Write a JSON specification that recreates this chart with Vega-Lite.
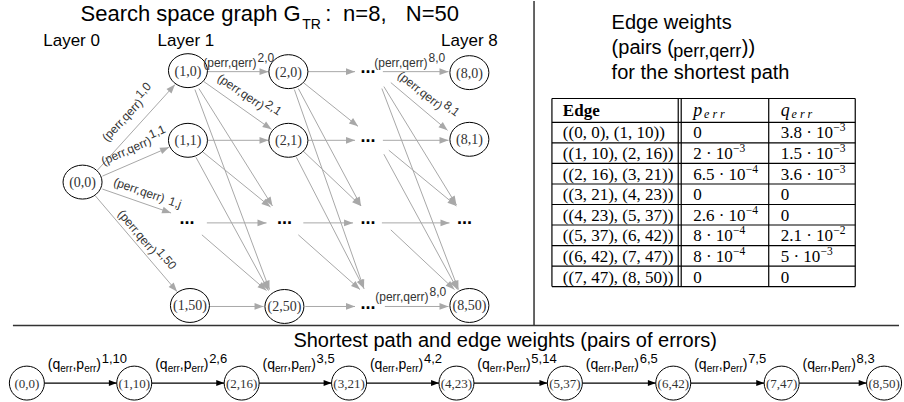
{
 "$schema": "https://vega.github.io/schema/vega-lite/v6.json",
 "width": 904, "height": 402,
 "autosize": {"type": "fit", "contains": "padding"},
 "padding": 0,
 "background": "white",
 "config": {"view": {"stroke": null}},
 "datasets": {
  "edges": [
   {"g":"t","x":98,"y":170,"x2":176,"y2":84},{"g":"t","x":103,"y":176,"x2":170,"y2":147},{"g":"t","x":103,"y":189,"x2":172,"y2":213},{"g":"t","x":96,"y":196,"x2":178,"y2":292},
   {"g":"t","x":208,"y":71,"x2":270,"y2":71},{"g":"t","x":309,"y":71,"x2":357,"y2":71},{"g":"t","x":385,"y":71,"x2":451,"y2":71},
   {"g":"t","x":208,"y":140,"x2":270,"y2":140},{"g":"t","x":309,"y":140,"x2":357,"y2":140},{"g":"t","x":385,"y":140,"x2":451,"y2":140},
   {"g":"t","x":208,"y":223,"x2":268,"y2":223},{"g":"t","x":305,"y":223,"x2":355,"y2":223},{"g":"t","x":384,"y":223,"x2":452,"y2":223},
   {"g":"t","x":211,"y":307,"x2":265,"y2":307},{"g":"t","x":307,"y":307,"x2":357,"y2":307},{"g":"t","x":387,"y":307,"x2":451,"y2":307},
   {"g":"t","x":205,"y":81,"x2":273,"y2":129},{"g":"t","x":200,"y":88,"x2":274,"y2":206},{"g":"t","x":196,"y":89,"x2":271,"y2":290},{"g":"t","x":203,"y":151,"x2":272,"y2":207},{"g":"t","x":197,"y":157,"x2":270,"y2":291},{"g":"t","x":203,"y":235,"x2":268,"y2":291},
   {"g":"t","x":305,"y":82,"x2":360,"y2":126},{"g":"t","x":300,"y":88,"x2":363,"y2":206},{"g":"t","x":296,"y":89,"x2":366,"y2":289},{"g":"t","x":305,"y":151,"x2":363,"y2":206},{"g":"t","x":298,"y":157,"x2":366,"y2":289},{"g":"t","x":300,"y":235,"x2":362,"y2":290},
   {"g":"t","x":393,"y":82,"x2":450,"y2":130},{"g":"t","x":386,"y":86,"x2":459,"y2":205},{"g":"t","x":384,"y":88,"x2":461,"y2":290},{"g":"t","x":391,"y":150,"x2":459,"y2":206},{"g":"t","x":386,"y":154,"x2":460,"y2":290},{"g":"t","x":393,"y":230,"x2":457,"y2":290},
   {"g":"b","x":44.5,"y":384,"x2":117.5,"y2":384},{"g":"b","x":152.5,"y":384,"x2":225.5,"y2":384},{"g":"b","x":260.5,"y":384,"x2":333.5,"y2":384},{"g":"b","x":368.5,"y":384,"x2":441.5,"y2":384},
   {"g":"b","x":476.5,"y":384,"x2":550.5,"y2":384},{"g":"b","x":585.5,"y":384,"x2":659.5,"y2":384},{"g":"b","x":694.5,"y":384,"x2":768.5,"y2":384},{"g":"b","x":803.5,"y":384,"x2":871.5,"y2":384}
  ],
  "nodes": [
   {"g":"t","x":83,"y":182,"label":"(0,0)"},
   {"g":"t","x":189,"y":70,"label":"(1,0)"},{"g":"t","x":189,"y":140,"label":"(1,1)"},{"g":"t","x":191,"y":306,"label":"(1,50)"},
   {"g":"t","x":290,"y":71,"label":"(2,0)"},{"g":"t","x":290,"y":140,"label":"(2,1)"},{"g":"t","x":286,"y":307,"label":"(2,50)"},
   {"g":"t","x":472,"y":72,"label":"(8,0)"},{"g":"t","x":472,"y":139,"label":"(8,1)"},{"g":"t","x":472,"y":306,"label":"(8,50)"},
   {"g":"b","x":27,"y":384,"label":"(0,0)"},{"g":"b","x":135,"y":384,"label":"(1,10)"},{"g":"b","x":243,"y":384,"label":"(2,16)"},{"g":"b","x":351,"y":384,"label":"(3,21)"},
   {"g":"b","x":459,"y":384,"label":"(4,23)"},{"g":"b","x":568,"y":384,"label":"(5,37)"},{"g":"b","x":677,"y":384,"label":"(6,42)"},{"g":"b","x":786,"y":384,"label":"(7,47)"},{"g":"b","x":889,"y":384,"label":"(8,50)"}
  ],
  "dots": [
   {"x":188,"y":223},{"x":286,"y":223},{"x":370,"y":71},{"x":370,"y":140},{"x":370,"y":223},{"x":370,"y":308},{"x":467,"y":223}
  ],
  "lbl": [
   {"k":"n","x":145,"y":102,"ang":-47,"sup":"1,0"},
   {"k":"n","x":154,"y":143,"ang":-24,"sup":"1,1"},
   {"k":"j","x":165,"y":203,"ang":19,"sup":"1,j"},
   {"k":"n","x":153,"y":256,"ang":50,"sup":"1,50"},
   {"k":"n","x":259,"y":66,"ang":0,"sup":"2,0"},
   {"k":"n","x":263,"y":110,"ang":34,"sup":"2,1"},
   {"k":"n","x":431,"y":66,"ang":0,"sup":"8,0"},
   {"k":"n","x":442,"y":110,"ang":38,"sup":"8,1"},
   {"k":"n","x":432,"y":301,"ang":0,"sup":"8,0"}
  ],
  "blbl": [
   {"x":48,"y":370,"sup":"1,10"},{"x":156,"y":370,"sup":"2,6"},{"x":264,"y":370,"sup":"3,5"},{"x":372,"y":370,"sup":"4,2"},
   {"x":480,"y":370,"sup":"5,14"},{"x":589,"y":370,"sup":"6,5"},{"x":698,"y":370,"sup":"7,5"},{"x":807,"y":370,"sup":"8,3"}
  ],
  "lines": [
   {"k":"sep","x":537,"y":0,"x2":537,"y2":326},{"k":"sep","x":13,"y":326,"x2":904,"y2":326},
   {"k":"tab","x":555,"y":98,"x2":860,"y2":98},{"k":"tab","x":555,"y":122,"x2":860,"y2":122},{"k":"tab","x":555,"y":142.6,"x2":860,"y2":142.6},
   {"k":"tab","x":555,"y":163.2,"x2":860,"y2":163.2},{"k":"tab","x":555,"y":183.9,"x2":860,"y2":183.9},{"k":"tab","x":555,"y":204.5,"x2":860,"y2":204.5},
   {"k":"tab","x":555,"y":225.1,"x2":860,"y2":225.1},{"k":"tab","x":555,"y":245.8,"x2":860,"y2":245.8},{"k":"tab","x":555,"y":266.4,"x2":860,"y2":266.4},
   {"k":"tab","x":555,"y":287,"x2":860,"y2":287},
   {"k":"tab","x":555,"y":98,"x2":555,"y2":287},{"k":"tab","x":682,"y":98,"x2":682,"y2":287},{"k":"tab","x":685,"y":98,"x2":685,"y2":287},
   {"k":"tab","x":773,"y":98,"x2":773,"y2":287},{"k":"tab","x":860,"y":98,"x2":860,"y2":287}
  ],
  "txt": [
   {"k":"title","x":81,"y":20,"t":"Search space graph G"},
   {"k":"tsub","x":304,"y":28,"t":"TR"},
   {"k":"title","x":327,"y":20,"t":":"},
   {"k":"title","x":345,"y":20,"t":"n=8,"},
   {"k":"title","x":408,"y":20,"t":"N=50"},
   {"k":"layer","x":72,"y":45,"t":"Layer 0"},{"k":"layer","x":187,"y":45,"t":"Layer 1"},{"k":"layer","x":472,"y":45,"t":"Layer 8"},
   {"k":"rp","x":615,"y":28,"t":"Edge weights"},
   {"k":"rp","x":615,"y":53,"t":"(pairs ("},
   {"k":"rpsub","x":677,"y":56,"t":"perr,qerr"},
   {"k":"rp","x":746,"y":53,"t":"))"},
   {"k":"rp","x":615,"y":78,"t":"for the shortest path"},
   {"k":"bt","x":508,"y":348,"t":"Shortest path and edge weights (pairs of errors)"}
  ],
  "tab": [
   {"k":"th","x":566,"y":110,"t":"Edge"},
   {"k":"thi","x":697,"y":110,"t":"p"},{"k":"this","x":708,"y":113,"t":"e r r"},
   {"k":"thi","x":785,"y":110,"t":"q"},{"k":"this","x":796,"y":113,"t":"e r r"},
   {"k":"tc","x":566,"y":132,"t":"((0, 0), (1, 10))"},{"k":"tc","x":697,"y":132,"t":"0"},{"k":"tc","x":785,"y":132,"t":"3.8 · 10"},{"k":"ts","x":838,"y":127,"t":"−3"},
   {"k":"tc","x":566,"y":153,"t":"((1, 10), (2, 16))"},{"k":"tc","x":697,"y":153,"t":"2 · 10"},{"k":"ts","x":737,"y":148,"t":"−3"},{"k":"tc","x":785,"y":153,"t":"1.5 · 10"},{"k":"ts","x":838,"y":148,"t":"−3"},
   {"k":"tc","x":566,"y":174,"t":"((2, 16), (3, 21))"},{"k":"tc","x":697,"y":174,"t":"6.5 · 10"},{"k":"ts","x":750,"y":169,"t":"−4"},{"k":"tc","x":785,"y":174,"t":"3.6 · 10"},{"k":"ts","x":838,"y":169,"t":"−3"},
   {"k":"tc","x":566,"y":194,"t":"((3, 21), (4, 23))"},{"k":"tc","x":697,"y":194,"t":"0"},{"k":"tc","x":785,"y":194,"t":"0"},
   {"k":"tc","x":566,"y":215,"t":"((4, 23), (5, 37))"},{"k":"tc","x":697,"y":215,"t":"2.6 · 10"},{"k":"ts","x":750,"y":210,"t":"−4"},{"k":"tc","x":785,"y":215,"t":"0"},
   {"k":"tc","x":566,"y":235,"t":"((5, 37), (6, 42))"},{"k":"tc","x":697,"y":235,"t":"8 · 10"},{"k":"ts","x":737,"y":230,"t":"−4"},{"k":"tc","x":785,"y":235,"t":"2.1 · 10"},{"k":"ts","x":838,"y":230,"t":"−2"},
   {"k":"tc","x":566,"y":256,"t":"((6, 42), (7, 47))"},{"k":"tc","x":697,"y":256,"t":"8 · 10"},{"k":"ts","x":737,"y":251,"t":"−4"},{"k":"tc","x":785,"y":256,"t":"5 · 10"},{"k":"ts","x":825,"y":251,"t":"−3"},
   {"k":"tc","x":566,"y":277,"t":"((7, 47), (8, 50))"},{"k":"tc","x":697,"y":277,"t":"0"},{"k":"tc","x":785,"y":277,"t":"0"}
  ]
 },
 "layer": [
  {"data":{"name":"edges"},"transform":[{"filter":"datum.g === 't'"}],
   "mark":{"type":"rule","color":"#a8a8a8","strokeWidth":1},
   "encoding":{"x":{"field":"x","type":"quantitative","scale":{"domain":[0,904],"nice":false,"zero":false},"axis":null},
    "y":{"field":"y","type":"quantitative","scale":{"domain":[0,402],"nice":false,"zero":false,"reverse":true},"axis":null},
    "x2":{"field":"x2"},"y2":{"field":"y2"}}},
  {"data":{"name":"edges"},"transform":[{"filter":"datum.g === 't'"},{"calculate":"atan2(datum.y2-datum.y, datum.x2-datum.x)*180/PI","as":"ang"}],
   "mark":{"type":"point","shape":"M0,0L-2,-0.75L-2,0.75Z","filled":true,"color":"#a8a8a8","size":81,"opacity":1,"strokeWidth":0},
   "encoding":{"x":{"field":"x2","type":"quantitative","scale":{"domain":[0,904],"nice":false,"zero":false},"axis":null},
    "y":{"field":"y2","type":"quantitative","scale":{"domain":[0,402],"nice":false,"zero":false,"reverse":true},"axis":null},
    "angle":{"field":"ang","type":"quantitative","scale":null}}},
  {"data":{"name":"edges"},"transform":[{"filter":"datum.g === 'b'"}],
   "mark":{"type":"rule","color":"#000","strokeWidth":1.2},
   "encoding":{"x":{"field":"x","type":"quantitative","scale":{"domain":[0,904],"nice":false,"zero":false},"axis":null},
    "y":{"field":"y","type":"quantitative","scale":{"domain":[0,402],"nice":false,"zero":false,"reverse":true},"axis":null},
    "x2":{"field":"x2"},"y2":{"field":"y2"}}},
  {"data":{"name":"edges"},"transform":[{"filter":"datum.g === 'b'"},{"calculate":"atan2(datum.y2-datum.y, datum.x2-datum.x)*180/PI","as":"ang"}],
   "mark":{"type":"point","shape":"M0,0L-2,-0.75L-2,0.75Z","filled":true,"color":"#000","size":64,"opacity":1,"strokeWidth":0},
   "encoding":{"x":{"field":"x2","type":"quantitative","scale":{"domain":[0,904],"nice":false,"zero":false},"axis":null},
    "y":{"field":"y2","type":"quantitative","scale":{"domain":[0,402],"nice":false,"zero":false,"reverse":true},"axis":null},
    "angle":{"field":"ang","type":"quantitative","scale":null}}},
  {"data":{"name":"nodes"},"transform":[{"filter":"datum.g === 't'"}],
   "mark":{"type":"point","shape":"M-1,0C-1,-0.48,-0.55,-0.87,0,-0.87C0.55,-0.87,1,-0.48,1,0C1,0.48,0.55,0.87,0,0.87C-0.55,0.87,-1,0.48,-1,0Z","filled":true,"fill":"white","stroke":"#000","strokeWidth":1,"size":1521,"opacity":1},
   "encoding":{"x":{"field":"x","type":"quantitative","scale":{"domain":[0,904],"nice":false,"zero":false},"axis":null},
    "y":{"field":"y","type":"quantitative","scale":{"domain":[0,402],"nice":false,"zero":false,"reverse":true},"axis":null}}},
  {"data":{"name":"nodes"},"transform":[{"filter":"datum.g === 'b'"}],
   "mark":{"type":"point","shape":"M-1,0C-1,-0.535,-0.552,-0.97,0,-0.97C0.552,-0.97,1,-0.535,1,0C1,0.535,0.552,0.97,0,0.97C-0.552,0.97,-1,0.535,-1,0Z","filled":true,"fill":"white","stroke":"#000","strokeWidth":1,"size":1225,"opacity":1},
   "encoding":{"x":{"field":"x","type":"quantitative","scale":{"domain":[0,904],"nice":false,"zero":false},"axis":null},
    "y":{"field":"y","type":"quantitative","scale":{"domain":[0,402],"nice":false,"zero":false,"reverse":true},"axis":null}}},
  {"data":{"name":"nodes"},"transform":[{"filter":"datum.g === 't'"}],
   "mark":{"type":"text","font":"Liberation Serif","fontSize":14,"color":"#333","align":"center","baseline":"middle","dy":1},
   "encoding":{"x":{"field":"x","type":"quantitative","scale":{"domain":[0,904],"nice":false,"zero":false},"axis":null},
    "y":{"field":"y","type":"quantitative","scale":{"domain":[0,402],"nice":false,"zero":false,"reverse":true},"axis":null},
    "text":{"field":"label"}}},
  {"data":{"name":"nodes"},"transform":[{"filter":"datum.g === 'b'"}],
   "mark":{"type":"text","font":"Liberation Serif","fontSize":13,"color":"#333","align":"center","baseline":"middle","dy":1},
   "encoding":{"x":{"field":"x","type":"quantitative","scale":{"domain":[0,904],"nice":false,"zero":false},"axis":null},
    "y":{"field":"y","type":"quantitative","scale":{"domain":[0,402],"nice":false,"zero":false,"reverse":true},"axis":null},
    "text":{"field":"label"}}},
  {"data":{"name":"dots"},
   "mark":{"type":"text","text":"...","font":"Liberation Sans","fontWeight":"bold","fontSize":18,"color":"#000","align":"center","baseline":"alphabetic","dy":1.5},
   "encoding":{"x":{"field":"x","type":"quantitative","scale":{"domain":[0,904],"nice":false,"zero":false},"axis":null},
    "y":{"field":"y","type":"quantitative","scale":{"domain":[0,402],"nice":false,"zero":false,"reverse":true},"axis":null}}},
  {"data":{"name":"lbl"},
   "mark":{"type":"text","text":"(perr,qerr)","font":"Liberation Sans","fontSize":12,"color":"#333","align":"right","baseline":"alphabetic","dx":-1},
   "encoding":{"x":{"field":"x","type":"quantitative","scale":{"domain":[0,904],"nice":false,"zero":false},"axis":null},
    "y":{"field":"y","type":"quantitative","scale":{"domain":[0,402],"nice":false,"zero":false,"reverse":true},"axis":null},
    "angle":{"field":"ang","type":"quantitative","scale":null}}},
  {"data":{"name":"lbl"},"transform":[{"filter":"datum.k === 'n'"}],
   "mark":{"type":"text","font":"Liberation Sans","fontSize":12,"color":"#333","align":"left","baseline":"alphabetic","dx":0,"dy":-5},
   "encoding":{"x":{"field":"x","type":"quantitative","scale":{"domain":[0,904],"nice":false,"zero":false},"axis":null},
    "y":{"field":"y","type":"quantitative","scale":{"domain":[0,402],"nice":false,"zero":false,"reverse":true},"axis":null},
    "angle":{"field":"ang","type":"quantitative","scale":null},"text":{"field":"sup"}}},
  {"data":{"name":"lbl"},"transform":[{"filter":"datum.k === 'j'"}],
   "mark":{"type":"text","font":"Liberation Sans","fontSize":12,"color":"#333","align":"left","baseline":"alphabetic","dx":4,"dy":0},
   "encoding":{"x":{"field":"x","type":"quantitative","scale":{"domain":[0,904],"nice":false,"zero":false},"axis":null},
    "y":{"field":"y","type":"quantitative","scale":{"domain":[0,402],"nice":false,"zero":false,"reverse":true},"axis":null},
    "angle":{"field":"ang","type":"quantitative","scale":null},"text":{"field":"sup"}}},
  {"data":{"name":"blbl"},
   "mark":{"type":"text","text":"(q","font":"Liberation Sans","fontSize":14,"color":"#000","align":"left","baseline":"alphabetic"},
   "encoding":{"x":{"field":"x","type":"quantitative","scale":{"domain":[0,904],"nice":false,"zero":false},"axis":null},
    "y":{"field":"y","type":"quantitative","scale":{"domain":[0,402],"nice":false,"zero":false,"reverse":true},"axis":null}}},
  {"data":{"name":"blbl"},
   "mark":{"type":"text","text":"err","font":"Liberation Sans","fontSize":10,"color":"#000","align":"left","baseline":"alphabetic","dx":12.5,"dy":3},
   "encoding":{"x":{"field":"x","type":"quantitative","scale":{"domain":[0,904],"nice":false,"zero":false},"axis":null},
    "y":{"field":"y","type":"quantitative","scale":{"domain":[0,402],"nice":false,"zero":false,"reverse":true},"axis":null}}},
  {"data":{"name":"blbl"},
   "mark":{"type":"text","text":",p","font":"Liberation Sans","fontSize":14,"color":"#000","align":"left","baseline":"alphabetic","dx":24.7},
   "encoding":{"x":{"field":"x","type":"quantitative","scale":{"domain":[0,904],"nice":false,"zero":false},"axis":null},
    "y":{"field":"y","type":"quantitative","scale":{"domain":[0,402],"nice":false,"zero":false,"reverse":true},"axis":null}}},
  {"data":{"name":"blbl"},
   "mark":{"type":"text","text":"err","font":"Liberation Sans","fontSize":10,"color":"#000","align":"left","baseline":"alphabetic","dx":36.4,"dy":3},
   "encoding":{"x":{"field":"x","type":"quantitative","scale":{"domain":[0,904],"nice":false,"zero":false},"axis":null},
    "y":{"field":"y","type":"quantitative","scale":{"domain":[0,402],"nice":false,"zero":false,"reverse":true},"axis":null}}},
  {"data":{"name":"blbl"},
   "mark":{"type":"text","text":")","font":"Liberation Sans","fontSize":14,"color":"#000","align":"left","baseline":"alphabetic","dx":48.6},
   "encoding":{"x":{"field":"x","type":"quantitative","scale":{"domain":[0,904],"nice":false,"zero":false},"axis":null},
    "y":{"field":"y","type":"quantitative","scale":{"domain":[0,402],"nice":false,"zero":false,"reverse":true},"axis":null}}},
  {"data":{"name":"blbl"},
   "mark":{"type":"text","font":"Liberation Sans","fontSize":13,"color":"#000","align":"left","baseline":"alphabetic","dx":54,"dy":-6},
   "encoding":{"x":{"field":"x","type":"quantitative","scale":{"domain":[0,904],"nice":false,"zero":false},"axis":null},
    "y":{"field":"y","type":"quantitative","scale":{"domain":[0,402],"nice":false,"zero":false,"reverse":true},"axis":null},
    "text":{"field":"sup"}}},
  {"data":{"name":"lines"},"transform":[{"filter":"datum.k === 'sep'"}],
   "mark":{"type":"rule","color":"#333","strokeWidth":1.5},
   "encoding":{"x":{"field":"x","type":"quantitative","scale":{"domain":[0,904],"nice":false,"zero":false},"axis":null},
    "y":{"field":"y","type":"quantitative","scale":{"domain":[0,402],"nice":false,"zero":false,"reverse":true},"axis":null},
    "x2":{"field":"x2"},"y2":{"field":"y2"}}},
  {"data":{"name":"lines"},"transform":[{"filter":"datum.k === 'tab'"}],
   "mark":{"type":"rule","color":"#000","strokeWidth":1.2},
   "encoding":{"x":{"field":"x","type":"quantitative","scale":{"domain":[0,904],"nice":false,"zero":false},"axis":null},
    "y":{"field":"y","type":"quantitative","scale":{"domain":[0,402],"nice":false,"zero":false,"reverse":true},"axis":null},
    "x2":{"field":"x2"},"y2":{"field":"y2"}}},
  {"data":{"name":"txt"},"transform":[{"filter":"datum.k === 'title'"}],
   "mark":{"type":"text","font":"Liberation Sans","fontSize":22,"color":"#000","align":"left","baseline":"alphabetic"},
   "encoding":{"x":{"field":"x","type":"quantitative","scale":{"domain":[0,904],"nice":false,"zero":false},"axis":null},
    "y":{"field":"y","type":"quantitative","scale":{"domain":[0,402],"nice":false,"zero":false,"reverse":true},"axis":null},
    "text":{"field":"t"}}},
  {"data":{"name":"txt"},"transform":[{"filter":"datum.k === 'tsub'"}],
   "mark":{"type":"text","font":"Liberation Sans","fontSize":14,"color":"#000","align":"left","baseline":"alphabetic"},
   "encoding":{"x":{"field":"x","type":"quantitative","scale":{"domain":[0,904],"nice":false,"zero":false},"axis":null},
    "y":{"field":"y","type":"quantitative","scale":{"domain":[0,402],"nice":false,"zero":false,"reverse":true},"axis":null},
    "text":{"field":"t"}}},
  {"data":{"name":"txt"},"transform":[{"filter":"datum.k === 'layer'"}],
   "mark":{"type":"text","font":"Liberation Sans","fontSize":17,"color":"#000","align":"center","baseline":"alphabetic"},
   "encoding":{"x":{"field":"x","type":"quantitative","scale":{"domain":[0,904],"nice":false,"zero":false},"axis":null},
    "y":{"field":"y","type":"quantitative","scale":{"domain":[0,402],"nice":false,"zero":false,"reverse":true},"axis":null},
    "text":{"field":"t"}}},
  {"data":{"name":"txt"},"transform":[{"filter":"datum.k === 'rp'"}],
   "mark":{"type":"text","font":"Liberation Sans","fontSize":20,"color":"#000","align":"left","baseline":"alphabetic"},
   "encoding":{"x":{"field":"x","type":"quantitative","scale":{"domain":[0,904],"nice":false,"zero":false},"axis":null},
    "y":{"field":"y","type":"quantitative","scale":{"domain":[0,402],"nice":false,"zero":false,"reverse":true},"axis":null},
    "text":{"field":"t"}}},
  {"data":{"name":"txt"},"transform":[{"filter":"datum.k === 'rpsub'"}],
   "mark":{"type":"text","font":"Liberation Sans","fontSize":18,"color":"#000","align":"left","baseline":"alphabetic"},
   "encoding":{"x":{"field":"x","type":"quantitative","scale":{"domain":[0,904],"nice":false,"zero":false},"axis":null},
    "y":{"field":"y","type":"quantitative","scale":{"domain":[0,402],"nice":false,"zero":false,"reverse":true},"axis":null},
    "text":{"field":"t"}}},
  {"data":{"name":"txt"},"transform":[{"filter":"datum.k === 'bt'"}],
   "mark":{"type":"text","font":"Liberation Sans","fontSize":20,"color":"#000","align":"center","baseline":"alphabetic"},
   "encoding":{"x":{"field":"x","type":"quantitative","scale":{"domain":[0,904],"nice":false,"zero":false},"axis":null},
    "y":{"field":"y","type":"quantitative","scale":{"domain":[0,402],"nice":false,"zero":false,"reverse":true},"axis":null},
    "text":{"field":"t"}}},
  {"data":{"name":"tab"},"transform":[{"filter":"datum.k === 'th'"}],
   "mark":{"type":"text","font":"Liberation Serif","fontWeight":"bold","fontSize":17,"color":"#000","align":"left","baseline":"middle","dy":1},
   "encoding":{"x":{"field":"x","type":"quantitative","scale":{"domain":[0,904],"nice":false,"zero":false},"axis":null},
    "y":{"field":"y","type":"quantitative","scale":{"domain":[0,402],"nice":false,"zero":false,"reverse":true},"axis":null},
    "text":{"field":"t"}}},
  {"data":{"name":"tab"},"transform":[{"filter":"datum.k === 'thi'"}],
   "mark":{"type":"text","font":"Liberation Serif","fontStyle":"italic","fontSize":18,"color":"#000","align":"left","baseline":"middle","dy":1},
   "encoding":{"x":{"field":"x","type":"quantitative","scale":{"domain":[0,904],"nice":false,"zero":false},"axis":null},
    "y":{"field":"y","type":"quantitative","scale":{"domain":[0,402],"nice":false,"zero":false,"reverse":true},"axis":null},
    "text":{"field":"t"}}},
  {"data":{"name":"tab"},"transform":[{"filter":"datum.k === 'this'"}],
   "mark":{"type":"text","font":"Liberation Serif","fontStyle":"italic","fontSize":12,"color":"#000","align":"left","baseline":"middle","dy":1},
   "encoding":{"x":{"field":"x","type":"quantitative","scale":{"domain":[0,904],"nice":false,"zero":false},"axis":null},
    "y":{"field":"y","type":"quantitative","scale":{"domain":[0,402],"nice":false,"zero":false,"reverse":true},"axis":null},
    "text":{"field":"t"}}},
  {"data":{"name":"tab"},"transform":[{"filter":"datum.k === 'tc'"}],
   "mark":{"type":"text","font":"Liberation Serif","fontSize":17,"color":"#000","align":"left","baseline":"middle","dy":1},
   "encoding":{"x":{"field":"x","type":"quantitative","scale":{"domain":[0,904],"nice":false,"zero":false},"axis":null},
    "y":{"field":"y","type":"quantitative","scale":{"domain":[0,402],"nice":false,"zero":false,"reverse":true},"axis":null},
    "text":{"field":"t"}}},
  {"data":{"name":"tab"},"transform":[{"filter":"datum.k === 'ts'"}],
   "mark":{"type":"text","font":"Liberation Serif","fontSize":11.5,"color":"#000","align":"left","baseline":"middle","dy":1},
   "encoding":{"x":{"field":"x","type":"quantitative","scale":{"domain":[0,904],"nice":false,"zero":false},"axis":null},
    "y":{"field":"y","type":"quantitative","scale":{"domain":[0,402],"nice":false,"zero":false,"reverse":true},"axis":null},
    "text":{"field":"t"}}}
 ]
}
